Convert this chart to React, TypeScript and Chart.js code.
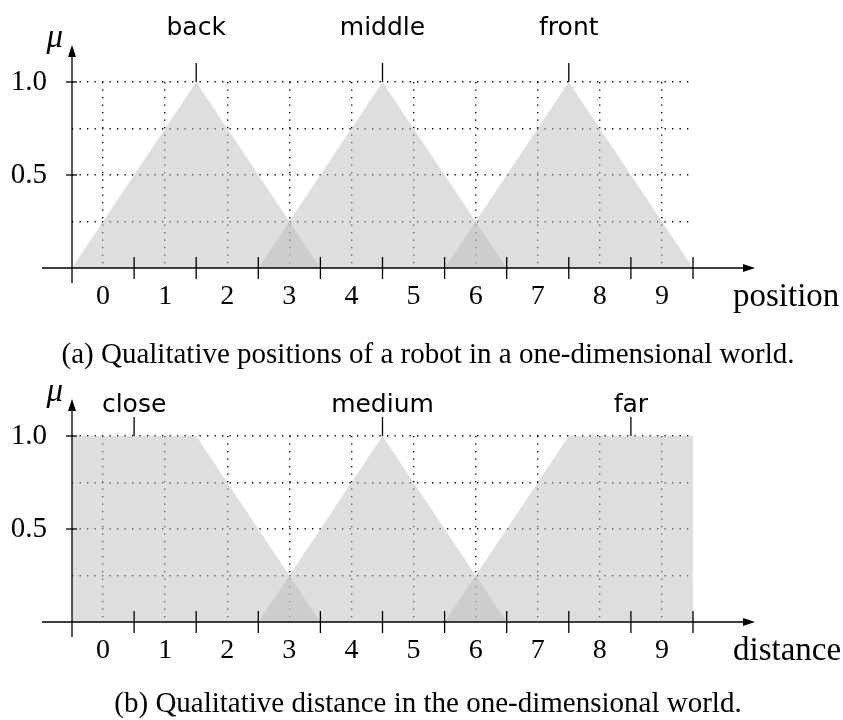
import React, { useEffect, useRef } from 'react';
import { Chart, registerables } from 'chart.js';

Chart.register(...registerables);

// Linguistic terms and their membership functions (x breakpoints, μ values)
const positionTerms = ['back', 'middle', 'front'];
const positionX = [
  [-0.5, 1.5, 3.5],
  [2.5, 4.5, 6.5],
  [5.5, 7.5, 9.5],
];
const positionMu = [
  [0, 1, 0],
  [0, 1, 0],
  [0, 1, 0],
];
const positionAnchors = [1.5, 4.5, 7.5];

const distanceTerms = ['close', 'medium', 'far'];
const distanceX = [
  [-0.5, 1.5, 3.5],
  [2.5, 4.5, 6.5],
  [5.5, 7.5, 9.5],
];
const distanceMu = [
  [1, 1, 0],
  [0, 1, 0],
  [0, 1, 1],
];
const distanceAnchors = [0.5, 4.5, 8.5];

// Axis ticks
const cellTicks = [0, 1, 2, 3, 4, 5, 6, 7, 8, 9];
const boundaryTicks = [0.5, 1.5, 2.5, 3.5, 4.5, 5.5, 6.5, 7.5, 8.5, 9.5];
const muGrid = [0.25, 0.5, 0.75, 1];
const muTickValues = [0.5, 1];
const muTickLabels = ['0.5', '1.0'];

const SERIF = "'Liberation Serif', 'DejaVu Serif', serif";
const SANS = "'DejaVu Sans', 'Noto Sans', sans-serif";
const FILL = 'rgba(190, 190, 190, 0.5)';
const DOT = '#000';

const decor = {
  id: 'fuzzyDecor',
  afterDraw(chart: any, _args: any, opts: any) {
    const { ctx, chartArea, scales } = chart;
    const { left, right, top, bottom } = chartArea;
    const xs = scales.x;
    const ys = scales.y;
    ctx.save();
    ctx.strokeStyle = '#000';
    ctx.fillStyle = '#000';
    ctx.lineWidth = 1.3;

    // x axis with arrow
    ctx.beginPath();
    ctx.moveTo(left - 30, bottom);
    ctx.lineTo(right + 52, bottom);
    ctx.stroke();
    ctx.beginPath();
    ctx.moveTo(right + 62, bottom);
    ctx.lineTo(right + 50, bottom - 4);
    ctx.lineTo(right + 50, bottom + 4);
    ctx.closePath();
    ctx.fill();

    // y axis with arrow
    ctx.beginPath();
    ctx.moveTo(left, bottom + 15);
    ctx.lineTo(left, top - 26);
    ctx.stroke();
    ctx.beginPath();
    ctx.moveTo(left, top - 37);
    ctx.lineTo(left - 4, top - 25);
    ctx.lineTo(left + 4, top - 25);
    ctx.closePath();
    ctx.fill();

    // boundary ticks on x axis
    for (const v of boundaryTicks) {
      const px = xs.getPixelForValue(v);
      ctx.beginPath();
      ctx.moveTo(px, bottom - 11);
      ctx.lineTo(px, bottom + 11);
      ctx.stroke();
    }

    // μ ticks
    for (const v of muTickValues) {
      const py = ys.getPixelForValue(v);
      ctx.beginPath();
      ctx.moveTo(left - 6, py);
      ctx.lineTo(left + 5, py);
      ctx.stroke();
    }

    // term labels with marker ticks
    ctx.textAlign = 'center';
    ctx.textBaseline = 'alphabetic';
    ctx.font = `25px ${SANS}`;
    opts.terms.forEach((t: string, i: number) => {
      const px = xs.getPixelForValue(opts.anchors[i]);
      ctx.beginPath();
      ctx.moveTo(px, top - 19);
      ctx.lineTo(px, top);
      ctx.stroke();
      ctx.fillText(t, px, top - opts.labelLift);
    });

    // μ axis title
    ctx.font = `italic 33px ${SERIF}`;
    ctx.textAlign = 'right';
    ctx.fillText('μ', left - 9, top - 35);

    // x axis title
    ctx.font = `33px ${SERIF}`;
    ctx.textAlign = 'left';
    ctx.fillText(opts.title, right + 40, bottom + 38);

    ctx.restore();
  },
};

function makeConfig(terms: string[], xsArr: number[][], mus: number[][], anchors: number[], labelLift: number, title: string): any {
  const grid = { drawTicks: false, color: DOT, lineWidth: 1.4 };
  const border = { display: false, dash: [1.3, 6.2] };
  return {
    type: 'scatter',
    data: {
      datasets: terms.map((t, i) => ({
        label: t,
        data: xsArr[i].map((x, j) => ({ x, y: mus[i][j] })),
        showLine: true,
        fill: 'origin',
        backgroundColor: FILL,
        borderColor: 'rgba(0,0,0,0)',
        borderWidth: 0,
        pointRadius: 0,
        tension: 0,
      })),
    },
    options: {
      animation: false,
      responsive: false,
      maintainAspectRatio: false,
      layout: { padding: { left: 8, right: 150, top: 82, bottom: 0 } },
      plugins: {
        legend: { display: false },
        tooltip: { enabled: false },
        fuzzyDecor: { terms, anchors, labelLift, title },
      },
      scales: {
        x: {
          type: 'linear',
          min: -0.5,
          max: 9.5,
          z: 1,
          afterBuildTicks: (s: any) => {
            s.ticks = cellTicks.map((v) => ({ value: v }));
          },
          afterFit: (s: any) => {
            s.height = 86;
          },
          ticks: {
            color: '#000',
            font: { family: SERIF, size: 28 },
            padding: 12,
            maxRotation: 0,
            autoSkip: false,
            callback: (v: number) => String(v),
          },
          grid,
          border,
        },
        y: {
          type: 'linear',
          min: 0,
          max: 1,
          z: 1,
          afterBuildTicks: (s: any) => {
            s.ticks = muGrid.map((v) => ({ value: v }));
          },
          afterFit: (s: any) => {
            s.width = 64;
          },
          ticks: {
            color: '#000',
            font: { family: SERIF, size: 29 },
            padding: 25,
            autoSkip: false,
            callback: (v: number) => {
              const k = muTickValues.indexOf(v);
              return k >= 0 ? muTickLabels[k] : '';
            },
          },
          grid,
          border,
        },
      },
    },
    plugins: [decor],
  };
}

function FuzzyChart(props: { top: number; config: () => any }) {
  const ref = useRef<HTMLCanvasElement | null>(null);
  useEffect(() => {
    if (!ref.current) return;
    const chart = new Chart(ref.current, props.config());
    return () => chart.destroy();
  }, []);
  return (
    <canvas
      ref={ref}
      width={843}
      height={354}
      style={{ position: 'absolute', left: 0, top: props.top, width: 843, height: 354 }}
    />
  );
}

const captionStyle: React.CSSProperties = {
  position: 'absolute',
  left: 0,
  width: 856,
  textAlign: 'center',
  fontFamily: SERIF,
  fontSize: 29,
  lineHeight: '29px',
  whiteSpace: 'nowrap',
  color: '#000',
};

export default function App() {
  return (
    <div style={{ position: 'fixed', left: 0, top: 0, width: 843, height: 720, background: '#fff', overflow: 'hidden' }}>
      <FuzzyChart
        top={0}
        config={() => makeConfig(positionTerms, positionX, positionMu, positionAnchors, 47, 'position')}
      />
      <FuzzyChart
        top={354}
        config={() => makeConfig(distanceTerms, distanceX, distanceMu, distanceAnchors, 24, 'distance')}
      />
      <div style={{ ...captionStyle, top: 339 }}>(a) Qualitative positions of a robot in a one-dimensional world.</div>
      <div style={{ ...captionStyle, top: 688 }}>(b) Qualitative distance in the one-dimensional world.</div>
    </div>
  );
}
